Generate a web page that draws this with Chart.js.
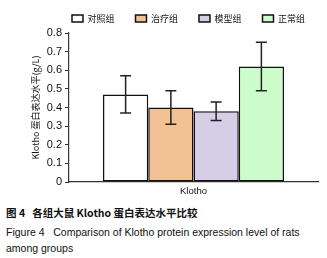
<!DOCTYPE html>
<html>
<head>
<meta charset="utf-8">
<script src="https://cdn.jsdelivr.net/npm/chart.js@4"></script>
<style>
  body { margin: 0; background: #fff; width: 327px; height: 258px; overflow: hidden; font-family: "Liberation Sans", Arial, sans-serif; }
  #wrap { position: absolute; left: 0; top: 0; width: 327px; height: 200px; }
  .cap { position: absolute; left: 6px; color: #111; white-space: nowrap; }
  #cap1 { top: 205px; font-size: 10.5px; font-weight: bold; font-family: "Noto Sans CJK SC", "Liberation Sans", sans-serif; }
  #cap2 { top: 226px; font-size: 10.5px; }
  #cap3 { top: 242px; font-size: 10.5px; }
</style>
</head>
<body>
<div id="wrap"><canvas id="c" width="327" height="200"></canvas></div>
<div class="cap" id="cap1">图 4&nbsp;&nbsp;&nbsp;各组大鼠 Klotho 蛋白表达水平比较</div>
<div class="cap" id="cap2">Figure 4&nbsp;&nbsp;&nbsp;Comparison of Klotho protein expression level of rats</div>
<div class="cap" id="cap3">among groups</div>
<script>
// values
const categories = ['Klotho'];
const groups = ['对照组', '治疗组', '模型组', '正常组'];
const means = [0.47, 0.40, 0.38, 0.62];
const errs = [0.10, 0.09, 0.05, 0.13];
const fills = ['#ffffff', '#f2c295', '#d6cde6', '#ccfccc'];

// draws mean ± err whiskers using the bar elements and y scale
const errorBars = {
  id: 'errorBars',
  afterDatasetsDraw(chart) {
    const ctx = chart.ctx;
    const y = chart.scales.y;
    ctx.save();
    ctx.strokeStyle = '#222';
    ctx.lineWidth = 1.5;
    chart.data.datasets.forEach((ds, i) => {
      const bar = chart.getDatasetMeta(i).data[0];
      const x = bar.x;
      const top = y.getPixelForValue(ds.data[0] + ds.err);
      const bot = y.getPixelForValue(ds.data[0] - ds.err);
      ctx.beginPath();
      ctx.moveTo(x, top); ctx.lineTo(x, bot);
      ctx.moveTo(x - 5.5, top); ctx.lineTo(x + 5.5, top);
      ctx.moveTo(x - 5.5, bot); ctx.lineTo(x + 5.5, bot);
      ctx.stroke();
    });
    ctx.restore();
  }
};

// nudge the legend a bit to the right, over the plot
const legendShift = {
  id: 'legendShift',
  afterLayout(chart) {
    chart.legend.left += 8;
    chart.legend.right += 8;
  }
};

new Chart(document.getElementById('c'), {
  type: 'bar',
  data: {
    labels: categories,
    datasets: groups.map((g, i) => ({
      label: g,
      data: [means[i]],
      err: errs[i],
      backgroundColor: fills[i],
      borderColor: '#111',
      borderWidth: 1.5,
      borderSkipped: false,
      categoryPercentage: 0.727,
      barPercentage: 1
    }))
  },
  options: {
    responsive: false,
    animation: false,
    layout: { padding: { left: 0, right: 9, top: -7, bottom: 0 } },
    plugins: {
      tooltip: { enabled: false },
      legend: {
        position: 'top',
        align: 'end',
        labels: {
          boxWidth: 11, boxHeight: 7, padding: 21, color: '#111',
          font: { family: '"Noto Sans CJK SC", sans-serif', size: 9 }
        }
      }
    },
    scales: {
      x: {
        grid: { display: false, drawTicks: false },
        border: { display: true, color: '#333', width: 1.2 },
        ticks: { color: '#111', font: { family: '"Liberation Sans", Arial', size: 9.5 }, padding: 4 },
        afterFit(s) { s.height = 18; }
      },
      y: {
        min: 0, max: 0.8,
        ticks: {
          stepSize: 0.1, color: '#111', padding: 3,
          font: { family: '"Liberation Sans", Arial', size: 11 },
          callback: v => v === 0 ? '0' : v.toFixed(1)
        },
        grid: { drawOnChartArea: false, drawTicks: true, tickLength: 4, color: '#333' },
        border: { display: true, color: '#333', width: 1.2 },
        title: {
          display: true, text: 'Klotho 蛋白表达水平(g/L)', color: '#111',
          font: { family: '"Noto Sans CJK SC", sans-serif', size: 9 }, padding: { top: 30, bottom: 0 }
        },
        afterFit(s) { s.width = 69; }
      }
    }
  },
  plugins: [errorBars, legendShift]
});
</script>
</body>
</html>
